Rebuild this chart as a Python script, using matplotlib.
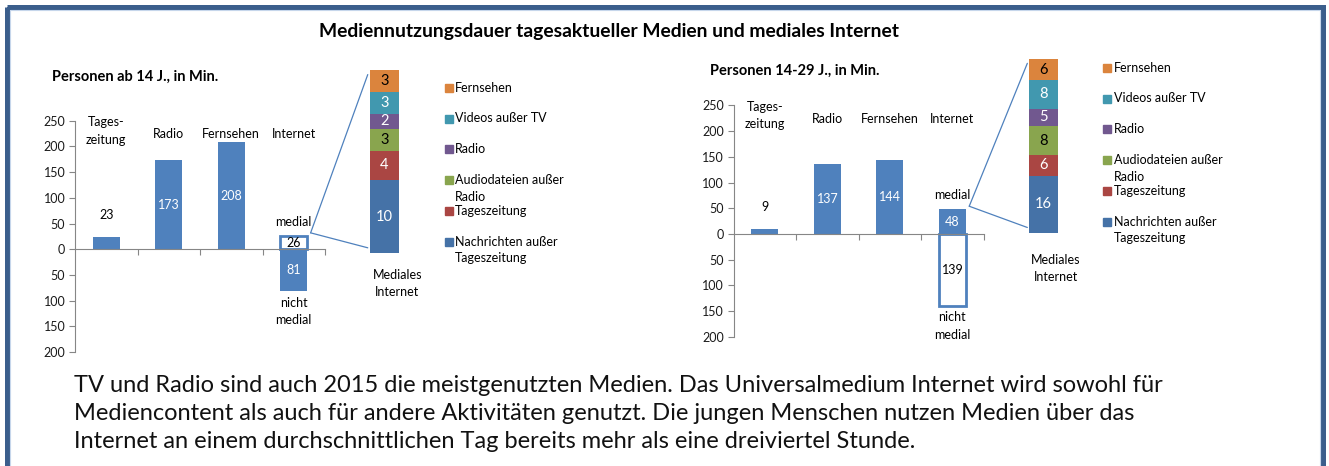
import numpy as np
import matplotlib
matplotlib.use('Agg')
import matplotlib.pyplot as plt
from matplotlib.patches import Rectangle, ConnectionPatch
from matplotlib.transforms import Affine2D
from matplotlib.ticker import FuncFormatter

plt.rcParams['font.family'] = ['Lato', 'DejaVu Sans']

# Daten
categories = ['Tages-\nzeitung', 'Radio', 'Fernsehen', 'Internet']
ab14_values = [23, 173, 208]
ab14_medial = 26
ab14_nicht_medial = 81
jung_values = [9, 137, 144]
jung_medial = 48
jung_nicht_medial = 139

stack_labels = ['Nachrichten außer\nTageszeitung', 'Tageszeitung', 'Audiodateien außer\nRadio',
                'Radio', 'Videos außer TV', 'Fernsehen']
stack_colors = ['#4572A7', '#AA4643', '#89A54E', '#71588F', '#4198AF', '#DB843D']
stack_text_colors = ['white', 'white', 'black', 'white', 'white', 'black']
ab14_stack = [10, 4, 3, 2, 3, 3]
jung_stack = [16, 6, 8, 5, 8, 6]

title = 'Mediennutzungsdauer tagesaktueller Medien und mediales Internet'
ab14_title = 'Personen ab 14 J., in Min.'
jung_title = 'Personen 14-29 J., in Min.'
note = ['TV und Radio sind auch 2015 die meistgenutzten Medien. Das Universalmedium Internet wird sowohl für',
        'Mediencontent als auch für andere Aktivitäten genutzt. Die jungen Menschen nutzen Medien über das',
        'Internet an einem durchschnittlichen Tag bereits mehr als eine dreiviertel Stunde.']

BLUE = '#4F81BD'
GRAY = '#868686'
W, H = 1329, 466

fig = plt.figure(figsize=(W / 100, H / 100), dpi=100)
# Pixelkoordinaten (oben links = 0,0)
tpx = Affine2D().scale(1 / W, -1 / H).translate(0, 1) + fig.transFigure


def box(x0, y0, x1, y1):
    return [x0 / W, 1 - y1 / H, (x1 - x0) / W, (y1 - y0) / H]


def panel(ax, ax_st, values, medial, nicht, stack, medial_filled):
    x = np.arange(3)
    bw = 0.43
    ax.bar(x, values, width=bw, color=BLUE)
    if medial_filled:
        ax.bar(3, medial, width=bw, color=BLUE)
        ax.bar(3, -nicht, width=bw, color='white', edgecolor=BLUE, linewidth=2)
    else:
        ax.bar(3, medial, width=bw, color='white', edgecolor=BLUE, linewidth=2)
        ax.bar(3, -nicht, width=bw, color=BLUE)

    ax.text(0, values[0] + 43, str(values[0]), ha='center', va='center', fontsize=9)
    for i in (1, 2):
        ax.text(i, values[i] / 2, str(values[i]), ha='center', va='center', fontsize=9, color='white')
    ax.text(3, medial / 2, str(medial), ha='center', va='center', fontsize=9,
            color='white' if medial_filled else 'black')
    ax.text(3, -nicht / 2, str(nicht), ha='center', va='center', fontsize=9,
            color='black' if medial_filled else 'white')
    ax.text(3, medial + 28, 'medial', ha='center', va='center', fontsize=9)
    ax.text(3, -nicht - 40, 'nicht\nmedial', ha='center', va='center', fontsize=9, linespacing=1.55)
    for i, c in enumerate(categories):
        y = 230 if '\n' in c else 224
        ax.text(i, y, c, ha='center', va='center', fontsize=9, linespacing=1.55)

    ax.set_xlim(-0.5, 3.5)
    ax.set_ylim(-200, 250)
    ax.set_yticks(np.arange(-200, 251, 50))
    ax.yaxis.set_major_formatter(FuncFormatter(lambda v, p: f'{abs(int(v))}'))
    ax.set_xticks([0.5, 1.5, 2.5, 3.5])
    ax.set_xticklabels([])
    ax.spines['bottom'].set_position(('data', 0))
    ax.spines['top'].set_visible(False)
    ax.spines['right'].set_visible(False)
    for s in ('left', 'bottom'):
        ax.spines[s].set_color(GRAY)
    ax.tick_params(axis='both', colors=GRAY, length=4, width=0.8, labelsize=9, labelcolor='#1a1a1a')
    ax.tick_params(axis='y', pad=3)

    # gestapelte Säule "Mediales Internet"
    bottom = 0
    for v, c, tc in zip(stack, stack_colors, stack_text_colors):
        ax_st.bar(0, v, bottom=bottom, width=1, color=c)
        ax_st.text(0, bottom + v / 2, str(v), ha='center', va='center', fontsize=10.5, color=tc)
        bottom += v
    ax_st.set_xlim(-0.5, 0.5)
    ax_st.set_ylim(0, bottom)
    ax_st.axis('off')

    for yb in (0.975, 0.03):
        con = ConnectionPatch(xyA=(3.27, medial + 6), coordsA=ax.transData,
                              xyB=(-0.07, yb), coordsB=ax_st.transAxes,
                              color=BLUE, linewidth=0.9)
        fig.add_artist(con)


def legend(x_sq, y0):
    step = 30.8
    for k, (lab, c) in enumerate(zip(stack_labels[::-1], stack_colors[::-1])):
        y = y0 + k * step
        fig.patches.append(Rectangle((x_sq, y - 4), 8, 8, transform=tpx, color=c))
        for j, line in enumerate(lab.split('\n')):
            fig.text(x_sq + 10.5, y + j * 16.5, line, transform=tpx, ha='left', va='center', fontsize=9)


# linkes Diagramm
ax1 = fig.add_axes(box(75, 120.7, 325, 352.2))
ax1s = fig.add_axes(box(369.8, 70, 399, 253.3))
panel(ax1, ax1s, ab14_values, ab14_medial, ab14_nicht_medial, ab14_stack, medial_filled=False)
legend(444.6, 87.7)
fig.text(52, 76.7, ab14_title, transform=tpx, ha='left', va='center', fontsize=10.5, fontweight='bold')
fig.text(397.5, 283.3, 'Mediales\nInternet', transform=tpx, ha='center', va='center', fontsize=9,
         linespacing=1.55)

# rechtes Diagramm
ax2 = fig.add_axes(box(733.6, 105.4, 983.6, 336.9))
ax2s = fig.add_axes(box(1029.3, 59, 1057.5, 232.7))
panel(ax2, ax2s, jung_values, jung_medial, jung_nicht_medial, jung_stack, medial_filled=True)
legend(1103.2, 67.7)
fig.text(710, 71, jung_title, transform=tpx, ha='left', va='center', fontsize=10.5, fontweight='bold')
fig.text(1056, 268.3, 'Mediales\nInternet', transform=tpx, ha='center', va='center', fontsize=9,
         linespacing=1.55)

# Titel und Text
fig.text(609, 31, title, transform=tpx, ha='center', va='center', fontsize=13.9, fontweight='bold')
for i, line in enumerate(note):
    fig.text(74, 386 + i * 27.5, line, transform=tpx, ha='left', va='center', fontsize=17, color='#111111')

# Rahmen
fig.patches.append(Rectangle((6.5, 6.5), 1316.5, 500, transform=tpx, fill=False,
                             edgecolor='#3B5E8C', linewidth=3.6, clip_on=False))
fig.patches.append(Rectangle((9.6, 9.6), 1310.3, 500, transform=tpx, fill=False,
                             edgecolor='#C6D6EB', linewidth=0.8, clip_on=False))

fig.savefig('out.png', dpi=100)
